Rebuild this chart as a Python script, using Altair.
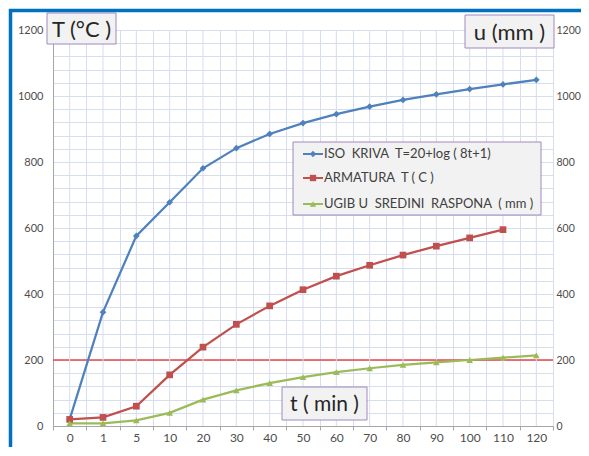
import altair as alt
import pandas as pd

# ---- data ----
cats = ["0", "1", "5", "10", "20", "30", "40", "50", "60", "70", "80", "90", "100", "110", "120"]
iso = [20, 345, 576, 678, 781, 842, 885, 918, 945, 968, 988, 1005, 1021, 1035, 1049]
arm = [20, 26, 60, 155, 239, 308, 364, 413, 454, 487, 518, 545, 570, 595, None]
ugib = [8, 8, 17, 40, 80, 108, 130, 148, 163, 175, 185, 193, 200, 207, 214]
names = ["ISO  KRIVA  T=20+log ( 8t+1)", "ARMATURA  T ( C )", "UGIB U  SREDINI  RASPONA  ( mm )"]
colors = ["#4F81BD", "#C0504D", "#9BBB59"]
shapes = ["diamond", "square", "triangle-up"]
y_ticks = list(range(0, 1201, 40))
y_labels = list(range(0, 1201, 200))
limit_value = 200

W, H = 500, 396
GRID = "#D6DDEC"
AX = "#A6A6A6"
FONT = "Lato"
LBL = "#4D4D4D"

rows = []
for name, vals in zip(names, [iso, arm, ugib]):
    for i, (c, v) in enumerate(zip(cats, vals)):
        if v is not None:
            rows.append({"s": name, "t": c, "i": i, "v": v})
df = pd.DataFrame(rows)
one = pd.DataFrame({"a": [0]})

xscale = alt.Scale(type="band", paddingInner=0, paddingOuter=0)
xaxis = alt.Axis(title=None, tickBand="extent", grid=True, gridColor=GRID, domainColor=AX,
                 tickColor=AX, tickSize=4, labelPadding=2, labelFont=FONT, labelFontSize=12,
                 labelColor=LBL, labelAngle=0)
X = alt.X("t:N", sort=cats, scale=xscale, axis=xaxis, bandPosition=0.5)
yscale = alt.Scale(domain=[0, 1200], nice=False)
yaxis = alt.Axis(title=None, orient="left", values=y_ticks, format="d",
                 labelExpr="datum.value % 200 == 0 ? datum.label : ''", labelOverlap=False,
                 ticks=False, labelPadding=10, grid=True, gridColor=GRID, domainColor=AX,
                 labelFont=FONT, labelFontSize=11, labelColor=LBL)
Y = alt.Y("v:Q", scale=yscale, axis=yaxis)

cscale = alt.Scale(domain=names, range=colors)
sscale = alt.Scale(domain=names, range=shapes)

center_grid = alt.Chart(pd.DataFrame({"t": cats})).mark_rule(color=GRID, strokeWidth=1).encode(
    x=X, y=alt.value(0), y2=alt.value(H))

lines = alt.Chart(df).mark_line(strokeWidth=2.25).encode(
    x=X, y=Y, color=alt.Color("s:N", scale=cscale, legend=None), order=alt.Order("i:Q"))
points = alt.Chart(df).mark_point(filled=True, opacity=1, size=45).encode(
    x=X, y=Y, color=alt.Color("s:N", scale=cscale, legend=None),
    shape=alt.Shape("s:N", scale=sscale, legend=None))

layers = [center_grid, lines, points]
box_fill = "#F2F2F2"
box_stroke = "#A08AC0"

# legend (decoration)
layers.append(alt.Chart(one).mark_rect(fill=box_fill, stroke=box_stroke, strokeWidth=1).encode(
    x=alt.value(240), x2=alt.value(488), y=alt.value(112), y2=alt.value(185)))
leg_y = [124, 148, 174]
for name, col, shp, ly in zip(names, colors, shapes, leg_y):
    layers.append(alt.Chart(one).mark_rule(color=col, strokeWidth=2).encode(
        x=alt.value(250), x2=alt.value(270), y=alt.value(ly)))
    layers.append(alt.Chart(one).mark_point(filled=True, opacity=1, size=40, shape=shp, color=col).encode(
        x=alt.value(260), y=alt.value(ly)))
    layers.append(alt.Chart(one).mark_text(text=name.replace("  ", "\u00a0 "), align="left",
                                           baseline="middle", font=FONT, fontSize=13,
                                           color="#404040").encode(
        x=alt.value(271), y=alt.value(ly)))

# title boxes
for txt, x1, x2, y1, y2, fs in [("T (°C )", -6, 63, -17, 14, 22),
                                ("u (mm )", 412, 501, -15, 18, 22),
                                ("t ( min )", 229, 314, 357, 390, 21)]:
    layers.append(alt.Chart(one).mark_rect(fill=box_fill, stroke=box_stroke, strokeWidth=1).encode(
        x=alt.value(x1), x2=alt.value(x2), y=alt.value(y1), y2=alt.value(y2)))
    layers.append(alt.Chart(one).mark_text(text=txt, align="center", baseline="middle", font=FONT,
                                           fontSize=fs, color="#262626").encode(
        x=alt.value((x1 + x2) / 2), y=alt.value((y1 + y2) / 2 + 1)))

# blue frame
layers.append(alt.Chart(one).mark_rule(color="#0070C0", strokeWidth=3.5).encode(
    x=alt.value(-44), x2=alt.value(W + 40), y=alt.value(-19.5)))
layers.append(alt.Chart(one).mark_rule(color="#0070C0", strokeWidth=3.5).encode(
    x=alt.value(-42.5), y=alt.value(-21), y2=alt.value(H + 30)))

inner = alt.layer(*layers)

right = alt.Chart(one).mark_rule(color="#E8474A", strokeWidth=1.5).encode(
    y=alt.Y(datum=limit_value, type="quantitative", scale=yscale,
            axis=alt.Axis(title=None, orient="right", values=y_labels, format="d", ticks=False,
                          domain=False, grid=False, labelPadding=3, labelFont=FONT,
                          labelFontSize=10.5, labelColor=LBL)))

chart = alt.layer(right, inner).resolve_scale(y="independent").properties(
    width=W, height=H,
    autosize=alt.AutoSizeParams(type="none"),
    padding={"left": 45, "top": 22, "right": 28, "bottom": 21},
    background="white",
).configure_view(stroke=None)

chart.save("out.html", embed_options={"renderer": "svg", "actions": False})
